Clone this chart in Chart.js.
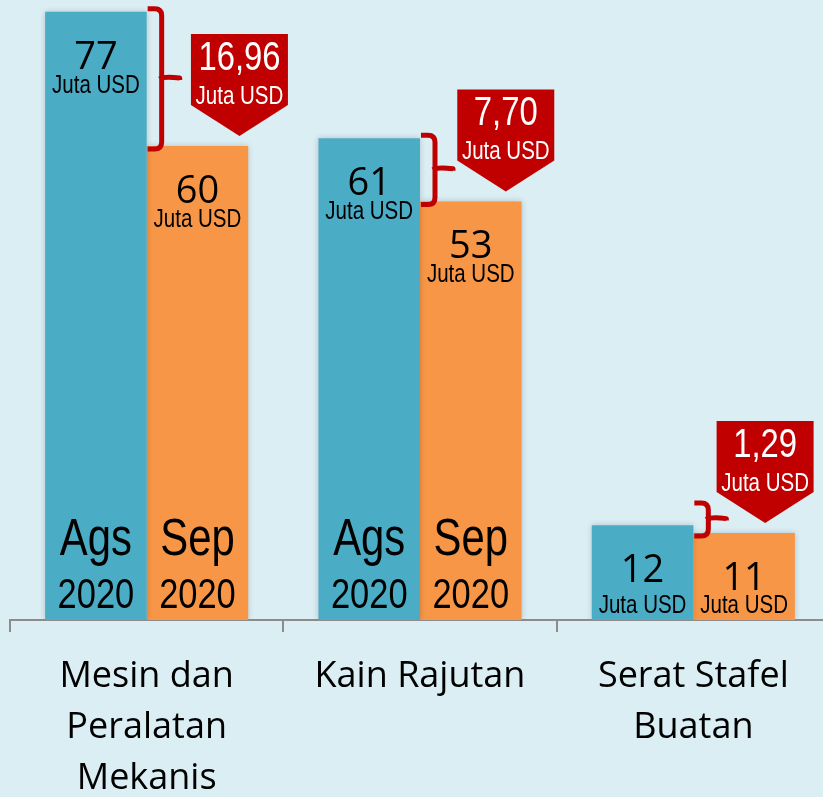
<!DOCTYPE html>
<html>
<head>
<meta charset="utf-8">
<script src="https://cdn.jsdelivr.net/npm/chart.js@4.4.0/dist/chart.umd.min.js"></script>
<style>
  html, body { margin: 0; padding: 0; overflow: hidden; background: #DAEEF3; }
  #wrap { width: 832px; height: 797px; position: relative; }
</style>
</head>
<body>
<div id="wrap"><canvas id="c"></canvas></div>
<script>
// ---- data ----
const categories = [["Mesin dan", "Peralatan", "Mekanis"], "Kain Rajutan", ["Serat Stafel", "Buatan"]];
const seriesNames = ["Ags 2020", "Sep 2020"];
const monthLabels = ["Ags", "Sep"];
const yearLabel = "2020";
const agsValues = [77, 61, 12];
const sepValues = [60, 53, 11];
const diffLabels = ["16,96", "7,70", "1,29"];
const unitLabel = "Juta USD";

// ---- style ----
const BLUE = '#4BACC6', ORANGE = '#F79646', RED = '#C00000', BG = '#DAEEF3';
const calloutShift = [42, 35, 21];

function narrowText(ctx, text, x, y, size, color) {
  ctx.save();
  ctx.translate(x, y);
  ctx.scale(0.82, 1);
  ctx.font = size + 'px "Liberation Sans", Arial, sans-serif';
  ctx.fillStyle = color;
  ctx.textAlign = 'center';
  ctx.textBaseline = 'alphabetic';
  ctx.fillText(text, 0, 0);
  ctx.restore();
}

const bgPlugin = {
  id: 'bg',
  beforeDraw(chart) {
    const ctx = chart.ctx;
    ctx.save();
    ctx.fillStyle = BG;
    ctx.fillRect(0, 0, chart.width, chart.height);
    ctx.restore();
  }
};

const shadowPlugin = {
  id: 'shadow',
  beforeDatasetDraw(chart) {
    const ctx = chart.ctx;
    ctx.save();
    ctx.shadowColor = 'rgba(0,0,0,0.18)';
    ctx.shadowBlur = 6;
    ctx.shadowOffsetX = 0;
    ctx.shadowOffsetY = 0;
  },
  afterDatasetDraw(chart) {
    chart.ctx.restore();
  }
};

const annotPlugin = {
  id: 'annot',
  afterDatasetsDraw(chart) {
    const ctx = chart.ctx;
    const m0 = chart.getDatasetMeta(0), m1 = chart.getDatasetMeta(1);
    const axisY = chart.scales.y.getPixelForValue(0);
    const vals = [agsValues, sepValues];
    for (let i = 0; i < categories.length; i++) {
      const bars = [m0.data[i], m1.data[i]];
      bars.forEach((b, k) => {
        const x = b.x, top = b.y;
        const h = axisY - top;
        ctx.save();
        ctx.font = '38px "Open Sans", sans-serif';
        ctx.fillStyle = '#000';
        ctx.textAlign = 'center';
        ctx.textBaseline = 'alphabetic';
        ctx.fillText(String(vals[k][i]), x, top + 57);
        ctx.restore();
        narrowText(ctx, unitLabel, x, h < 150 ? axisY - 7 : top + 81, 25, '#000');
        if (h > 250) {
          narrowText(ctx, monthLabels[k], x, axisY - 65, 51, '#000');
          narrowText(ctx, yearLabel, x, axisY - 12, 42, '#000');
        }
      });
      // bracket
      const b0 = bars[0], b1 = bars[1];
      const edge = b0.x + b0.width / 2;
      let top = b0.y - 3, bot = b1.y + 3;
      if (bot - top < 33) top = bot - 33;
      const mid = (top + bot) / 2;
      const x0 = edge + 1, xv = edge + 15, xn = edge + 33, r = 7;
      ctx.save();
      ctx.strokeStyle = RED;
      ctx.lineWidth = 5;
      ctx.lineJoin = 'round';
      ctx.beginPath();
      ctx.moveTo(x0, top);
      ctx.lineTo(xv - r, top);
      ctx.quadraticCurveTo(xv, top, xv, top + r);
      ctx.lineTo(xv, bot - r);
      ctx.quadraticCurveTo(xv, bot, xv - r, bot);
      ctx.lineTo(x0, bot);
      ctx.stroke();
      ctx.beginPath();
      ctx.moveTo(xv - 2, mid);
      ctx.quadraticCurveTo(xv + 2, mid - 3, xn, mid - 1);
      ctx.lineTo(xn, mid + 1);
      ctx.stroke();
      ctx.restore();
      // callout
      const tipX = b1.x + calloutShift[i], tipY = b1.y - 10;
      const w = 97, rh = 71, ah = 31;
      const cTop = tipY - rh - ah;
      ctx.save();
      ctx.fillStyle = RED;
      ctx.beginPath();
      ctx.moveTo(tipX - w / 2, cTop);
      ctx.lineTo(tipX + w / 2, cTop);
      ctx.lineTo(tipX + w / 2, cTop + rh);
      ctx.lineTo(tipX, tipY);
      ctx.lineTo(tipX - w / 2, cTop + rh);
      ctx.closePath();
      ctx.fill();
      ctx.restore();
      narrowText(ctx, diffLabels[i], tipX, cTop + 36, 40, '#fff');
      narrowText(ctx, unitLabel, tipX, cTop + 70, 25, '#fff');
    }
  }
};

new Chart(document.getElementById('c'), {
  type: 'bar',
  data: {
    labels: categories,
    datasets: [
      { label: seriesNames[0], data: agsValues, backgroundColor: BLUE, borderWidth: 0,
        categoryPercentage: 0.743, barPercentage: 1.0 },
      { label: seriesNames[1], data: sepValues, backgroundColor: ORANGE, borderWidth: 0,
        categoryPercentage: 0.743, barPercentage: 1.0 }
    ]
  },
  options: {
    responsive: true,
    maintainAspectRatio: false,
    animation: false,
    layout: { padding: { left: 10, right: 2, top: 0, bottom: 0 } },
    plugins: { legend: { display: false }, tooltip: { enabled: false } },
    scales: {
      x: {
        afterFit(axis) { axis.height = 177; },
        grid: { display: true, offset: true, drawOnChartArea: false, drawTicks: true,
                tickLength: 12, color: '#8c8c8c', lineWidth: 2 },
        border: { display: true, color: '#8c8c8c', width: 2 },
        ticks: { color: '#000', padding: 19, maxRotation: 0, autoSkip: false,
                 font: { family: '"Open Sans", sans-serif', size: 36, lineHeight: 1.42 } }
      },
      y: { display: false, min: 0, max: 78.5 }
    }
  },
  plugins: [bgPlugin, shadowPlugin, annotPlugin]
});
</script>
</body>
</html>
